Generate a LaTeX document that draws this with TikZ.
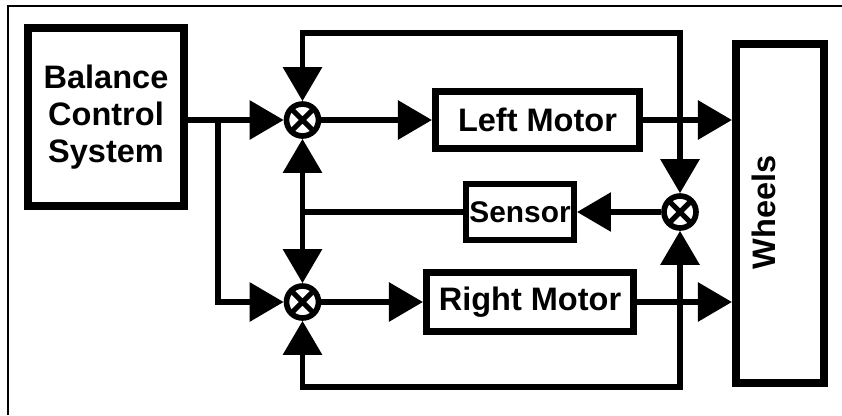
\documentclass[tikz,border=0pt]{standalone}
\usepackage{fontspec}
\setmainfont{Liberation Sans}
\usetikzlibrary{arrows.meta}

\tikzset{
  blk/.style={draw, line width=4pt, inner sep=0pt, align=center,
    font=\bfseries\fontsize{18.5}{21}\selectfont},
  sumpt/.style={circle, draw, line width=3.2pt, minimum size=0.64cm, inner sep=0pt,
    path picture={\draw[line width=3pt]
      (path picture bounding box.north west) -- (path picture bounding box.south east)
      (path picture bounding box.north east) -- (path picture bounding box.south west);}},
  flow/.style={-{Triangle[length=0.68cm, width=0.76cm]}},
  twoway/.style={{Triangle[length=0.68cm, width=0.76cm]}-{Triangle[length=0.68cm, width=0.76cm]}},
}

\begin{document}
\begin{tikzpicture}[line width=3.4pt]
  \useasboundingbox (0,0) rectangle (16.84,8.30);
  \draw[line width=0.9pt] (0.16,0) -- (0.16,8.18) -- (16.84,8.18);

  % blocks
  \node[blk, line width=4.6pt, minimum width=3.12cm, minimum height=3.56cm] (bcs) at (2.12,5.96) {Balance\\Control\\System};
  \node[blk, minimum width=4.08cm, minimum height=1.14cm] (lmot) at (10.75,5.9) {Left Motor};
  \node[blk, minimum width=4.14cm, minimum height=1.18cm] (rmot) at (10.6,2.26) {Right Motor};
  \node[blk, line width=3.4pt, minimum width=2.16cm, minimum height=1.12cm, font=\bfseries\fontsize{17}{20}\selectfont] (sens) at (10.4,4.06) {Sensor};
  \node[blk, line width=4.6pt, minimum width=1.76cm, minimum height=6.78cm] (whl) at (15.6,4.03) {};
  \node[rotate=90, font=\bfseries\fontsize{18.5}{21}\selectfont] (whltxt) at (15.27,4.05) {Wheels};

  % summing points
  \node[sumpt] (sumL) at (6.05,5.9) {};
  \node[sumpt] (sumR) at (6.05,2.26) {};
  \node[sumpt] (sumS) at (13.6,4.06) {};

  \coordinate (split) at (4.36,5.9);
  \coordinate (loopT) at (6.05,7.64);
  \coordinate (loopB) at (6.05,0.56);
  \coordinate (fb) at (sumL |- sens);

  % connections
  \draw[flow] (sumL.west -| bcs.east) -- (sumL.west);
  \draw[flow] (split) |- (sumR.west);
  \draw[flow] (sumL.east) -- (lmot.west);
  \draw[flow] (sumR.east) -- (rmot.west);
  \draw[twoway] (sumL.north) -- (loopT) -| (sumS.north);
  \draw[twoway] (sumR.south) -- (loopB) -| (sumS.south);
  \draw[flow] (lmot.east) -- (lmot.east -| whl.west);
  \draw[flow] (rmot.east) -- (rmot.east -| whl.west);
  \draw[flow] (sumS.west) -- (sens.east);
  \draw (sens.west) -- (fb);
  \draw[flow] (fb) -- (sumL.south);
  \draw[flow] (fb) -- (sumR.north);
\end{tikzpicture}
\end{document}
